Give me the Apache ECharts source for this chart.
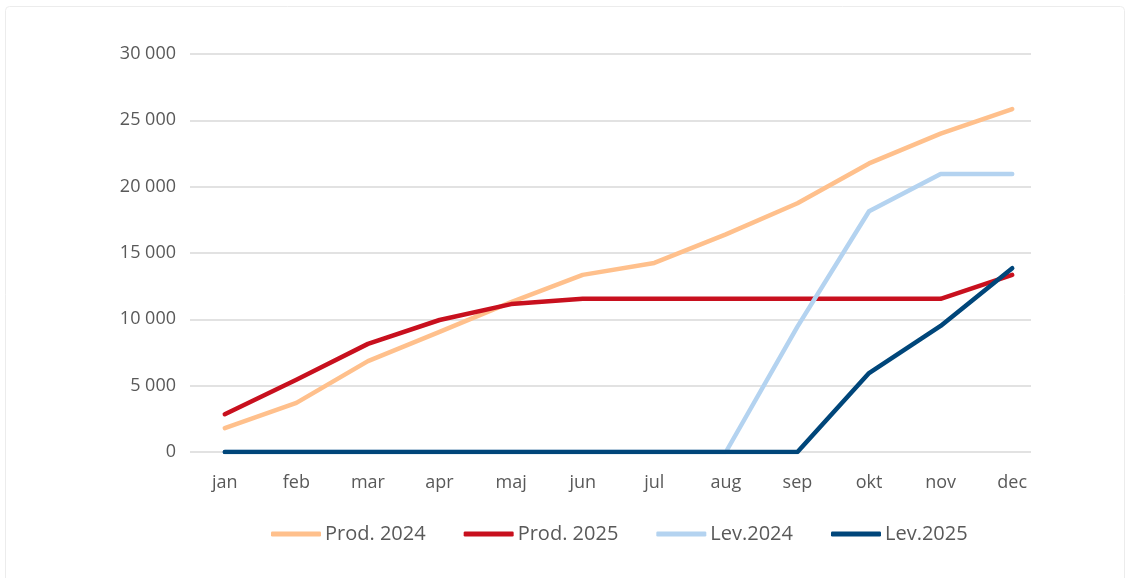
<!DOCTYPE html>
<html>
	<head>
		<meta charset="utf-8">
		<title>Prod / Lev</title>
		<script src="https://cdn.jsdelivr.net/npm/echarts@6/dist/echarts.min.js"></script>
		<style>
			html, body { margin: 0; padding: 0; background: #fff; }
			#main { width: 1131px; height: 578px; }
		</style>
	</head>
	<body>
		<div id="main"></div>
		<script type="text/javascript">
			// data
			var months = ['jan', 'feb', 'mar', 'apr', 'maj', 'jun', 'jul', 'aug', 'sep', 'okt', 'nov', 'dec'];
			var prod2024 = [1800, 3700, 6850, 9050, 11300, 13350, 14250, 16400, 18750, 21750, 24000, 25850];
			var prod2025 = [2850, 5450, 8150, 9950, 11150, 11550, 11550, 11550, 11550, 11550, 11550, 13350];
			var lev2024 = [0, 0, 0, 0, 0, 0, 0, 0, 9450, 18150, 20950, 20950];
			var lev2025 = [0, 0, 0, 0, 0, 0, 0, 0, 0, 5950, 9500, 13850];
			var names = ['Prod. 2024', 'Prod. 2025', 'Lev.2024', 'Lev.2025'];
			var colors = ['#FFC08C', '#C8101E', '#B4D3F0', '#00467A'];

			var myChart = echarts.init(document.getElementById('main'));
			var font = '"Open Sans", "Noto Sans", sans-serif';

			function fmt(v) {
				// 30000 -> "30 000"
				return String(v).replace(/\B(?=(\d{3})+(?!\d))/g, ' ');
			}

			function line(name, data, color) {
				return {
					name: name,
					type: 'line',
					xAxisIndex: 1,
					yAxisIndex: 1,
					data: data,
					showSymbol: false,
					symbol: 'none',
					lineStyle: { width: 4.5, color: color, cap: 'round', join: 'round' },
					itemStyle: { color: color },
					z: 3
				};
			}

			var option = {
				animation: false,
				color: colors,
				graphic: [{
					type: 'rect',
					shape: { x: 5.5, y: 6.5, width: 1119, height: 580, r: 4 },
					style: { fill: 'none', stroke: '#ececec', lineWidth: 1 },
					silent: true
				}],
				grid: [
					// grid for y labels and gridlines
					{ left: 190, right: 100, top: 54, bottom: 126 },
					// grid for the lines
					{ left: 189, right: 83, top: 54, bottom: 126 }
				],
				legend: {
					data: names,
					top: 519,
					left: 266,
					icon: 'roundRect',
					itemWidth: 50,
					itemHeight: 5,
					itemGap: 38,
					textStyle: { fontFamily: font, fontSize: 20, color: '#595959', padding: [0, 0, 0, -1] }
				},
				xAxis: [
					{
						gridIndex: 0,
						type: 'category',
						data: months,
						show: false
					},
					{
						gridIndex: 1,
						type: 'category',
						data: months,
						boundaryGap: true,
						axisLine: { show: false },
						axisTick: { show: false },
						axisLabel: { fontFamily: font, fontSize: 18, color: '#595959', margin: 22 }
					}
				],
				yAxis: [
					{
						gridIndex: 0,
						type: 'value',
						min: 0,
						max: 30000,
						interval: 5000,
						axisLine: { show: false },
						axisTick: { show: false },
						splitLine: { lineStyle: { color: '#d9d9d9', width: 1.5 } },
						axisLabel: { fontFamily: font, fontSize: 18, color: '#595959', margin: 14, formatter: fmt }
					},
					{
						gridIndex: 1,
						type: 'value',
						min: 0,
						max: 30000,
						interval: 5000,
						show: false,
						splitLine: { show: false }
					}
				],
				series: [
					line(names[0], prod2024, colors[0]),
					line(names[1], prod2025, colors[1]),
					line(names[2], lev2024, colors[2]),
					line(names[3], lev2025, colors[3])
				]
			};

			option && myChart.setOption(option);
		</script>
	</body>
</html>
